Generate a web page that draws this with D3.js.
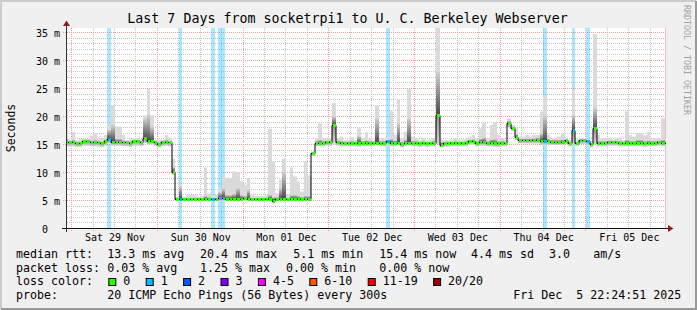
<!DOCTYPE html>
<html>
<head>
<meta charset="utf-8">
<script src="https://cdn.jsdelivr.net/npm/d3@7/dist/d3.min.js"></script>
<style>
  body { margin: 0; background: #f0f0f0; }
  svg text { font-family: "DejaVu Sans Mono", monospace; white-space: pre; }
</style>
</head>
<body>
<svg id="chart" width="697" height="310"></svg>
<script>
// hourly samples, first one covers Fri 28 Nov 22:00-23:00
var firstHour = new Date(2025, 10, 28, 22, 0, 0);
var endTime = new Date(2025, 11, 5, 22, 24, 51);
var startTime = new Date(endTime.getTime() - 7 * 86400e3);

// median rtt in ms, one value per hour
var median = [
  15.4,15.4,15.4,15.2,15.2,15.6,15.6,15.4,15.4,15.4,15.2,15.6,
  16.0,15.5,15.5,15.5,15.4,15.4,15.2,15.6,15.6,15.4,16.1,15.6,
  15.6,15.4,15.1,15.5,15.5,15.4,10.05,5.3,5.3,5.3,5.3,5.3,
  5.3,5.3,5.3,5.3,5.3,5.3,5.3,5.4,5.5,5.3,5.3,5.3,
  5.3,5.3,5.4,5.3,5.3,5.3,5.3,5.3,5.3,5.3,5.0,5.3,
  5.3,5.3,5.3,5.3,5.3,5.3,5.3,5.3,5.3,13.45,15.35,15.35,
  15.35,15.5,15.5,18.5,15.5,15.35,15.35,15.35,15.35,15.35,15.2,15.35,
  15.35,15.35,15.35,15.35,15.35,15.35,15.55,15.35,15.35,15.35,15.05,15.35,
  15.35,15.35,15.35,15.2,15.35,15.2,15.35,15.35,20.3,15.0,15.2,15.2,
  15.35,15.35,15.35,15.35,15.35,15.65,15.65,15.35,15.5,15.5,15.35,15.35,
  15.2,15.2,15.35,15.35,18.8,17.9,16.4,15.8,15.8,15.8,15.8,15.8,
  15.8,15.65,15.65,15.65,15.5,15.5,15.5,15.5,15.77,15.35,17.6,15.35,
  15.77,15.77,15.65,15.05,18.0,15.35,15.35,15.35,15.5,15.5,15.5,15.35,
  15.35,15.35,15.35,15.35,15.35,15.35,15.2,15.35,15.35,15.35,15.5,15.35,15.35
];
// slowest ping of the hour
var smokeHi = [
  21.2,15.9,17.2,15.8,15.9,16.1,16.0,16.6,17.0,16.1,16.1,16.7,
  18.5,22.0,18.2,18.2,16.7,15.8,16.0,16.1,16.1,15.9,20.2,24.9,
  20.2,15.8,15.9,15.9,16.7,16.2,12.5,5.7,7.9,5.7,6.0,6.0,
  6.0,5.7,5.8,10.9,6.3,6.0,6.0,7.1,9.1,9.1,9.0,10.2,
  10.0,8.4,7.8,9.0,6.0,5.8,5.8,5.8,6.0,17.8,12.0,6.3,
  8.7,12.5,6.0,10.9,9.3,8.4,6.6,12.0,9.5,13.8,16.1,18.8,
  16.1,16.1,16.1,22.4,16.1,16.4,15.8,15.8,16.3,15.8,17.9,16.1,
  17.2,16.1,15.8,22.0,16.1,16.1,16.3,21.0,16.7,23.0,16.1,17.3,
  24.9,16.4,16.1,15.9,16.1,15.8,15.9,16.1,35.8,15.9,15.8,15.8,
  15.9,16.1,15.9,15.9,16.1,16.4,16.7,16.1,17.9,18.8,16.1,18.5,
  19.0,16.7,16.1,15.9,19.7,18.5,17.9,16.4,16.4,16.7,16.4,16.7,
  16.7,20.9,23.6,16.7,16.1,16.1,16.4,17.0,16.2,15.8,24.9,15.9,
  16.1,16.1,16.0,15.6,34.7,16.7,16.1,16.1,16.1,15.9,16.1,16.1,
  15.8,20.9,16.7,16.4,17.0,17.0,16.7,17.3,16.1,16.1,16.1,19.7,16.1
];
// top of the dense part of the smoke
var smokeDark = [
  16.0,15.6,15.8,15.5,15.5,15.8,15.8,15.7,15.8,15.6,15.5,15.9,
  17.7,18.5,16.0,16.0,15.7,15.6,15.5,15.8,15.8,15.6,19.7,20.3,
  18.2,15.6,15.4,15.7,15.8,15.6,11.0,5.5,7.6,5.5,5.5,5.5,
  5.5,5.5,5.5,5.8,5.6,5.5,5.5,6.5,7.2,6.0,6.0,6.2,
  7.2,6.0,5.8,6.9,5.5,5.5,5.5,5.5,5.5,6.0,5.6,5.6,
  7.2,10.2,5.5,6.0,6.0,5.8,5.6,5.8,5.8,13.6,15.6,15.8,
  15.6,15.7,15.7,20.0,15.7,15.6,15.5,15.5,15.6,15.5,16.5,15.6,
  15.7,15.6,15.5,19.7,15.6,15.6,15.8,16.0,15.7,18.8,15.5,15.8,
  19.7,15.6,15.6,15.5,15.6,15.5,15.5,15.6,28.0,15.4,15.5,15.5,
  15.5,15.6,15.5,15.5,15.6,15.8,15.9,15.6,16.0,16.2,15.6,15.9,
  16.0,15.6,15.6,15.5,19.2,18.2,16.8,16.0,16.0,16.0,16.0,16.1,
  16.2,17.0,20.2,16.0,15.8,15.8,15.8,15.9,15.9,15.5,20.3,15.5,
  15.9,15.9,15.8,15.3,21.5,15.6,15.6,15.6,15.7,15.7,15.7,15.6,
  15.5,15.8,15.6,15.6,15.8,15.8,15.6,15.7,15.6,15.6,15.7,15.8,15.6
];
// fastest ping of the hour
var smokeLo = [
  14.7,14.7,14.7,14.6,14.6,14.8,14.8,14.7,14.7,14.7,14.6,14.8,
  15.2,14.8,14.8,14.8,14.7,14.7,14.6,14.8,14.8,14.7,15.3,15.0,
  15.0,14.7,14.5,14.7,14.8,14.7,9.6,4.9,4.9,4.9,4.9,4.9,
  4.9,4.9,4.9,4.9,4.9,4.9,4.9,4.9,5.0,4.9,4.9,4.9,
  4.9,4.9,5.0,4.9,4.9,4.9,4.9,4.9,4.9,4.9,4.7,4.9,
  4.9,4.9,4.9,4.9,4.9,4.9,4.9,4.9,4.9,12.9,14.7,14.7,
  14.7,14.8,14.8,15.0,14.8,14.7,14.7,14.7,14.7,14.7,14.6,14.7,
  14.7,14.7,14.7,14.9,14.7,14.7,14.9,14.7,14.7,14.9,14.5,14.7,
  14.9,14.7,14.7,14.6,14.7,14.6,14.7,14.7,15.1,14.5,14.6,14.6,
  14.7,14.7,14.7,14.7,14.7,15.0,15.0,14.7,14.8,14.8,14.7,14.7,
  14.6,14.6,14.7,14.7,18.0,17.4,15.8,15.2,15.2,15.2,15.2,15.2,
  15.2,14.9,14.9,14.9,14.9,14.9,14.9,14.9,15.1,14.7,15.0,14.8,
  15.1,15.1,14.9,14.5,15.0,14.7,14.7,14.7,14.8,14.8,14.8,14.7,
  14.7,14.7,14.7,14.7,14.7,14.7,14.6,14.7,14.7,14.7,14.8,14.7,14.7
];
// hours where pings were lost, and how many
var lossHours = [12, 32, 41, 43, 44, 90, 134, 142, 146];
var lossCounts = [1, 1, 1, 1, 1, 1, 1, 1, 1];

var lossLabels = ["0", "1", "2", "3", "4-5", "6-10", "11-19", "20/20"];
var lossColors = ["#26ff00", "#00b8ff", "#0059ff", "#7e00ff", "#ff00ff", "#ff5500", "#ff0000", "#a10000"];
var yTicks = [0, 5, 10, 15, 20, 25, 30, 35];

var legendRtt = [[16, "median rtt:"], [107.3, "13.3 ms avg"], [200, "20.4 ms max"], [293.3, "5.1 ms min"],
  [379.3, "15.4 ms now"], [471, "4.4 ms sd"], [549, "3.0"], [593.3, "am/s"]];
var legendLoss = [[16, "packet loss:"], [107.3, "0.03 % avg"], [200, "1.25 % max"], [286, "0.00 % min"],
  [379.3, "0.00 % now"]];
var legendProbe = [[16, "probe:"], [107.3, "20 ICMP Echo Pings (56 Bytes) every 300s"], [513.3, "Fri Dec  5 22:24:51 2025"]];

var svg = d3.select("#chart");
var plotL = 66, plotR = 666, plotT = 28, plotB = 228;

var x = d3.scaleTime().domain([startTime, endTime]).range([plotL, plotR]);
var y = d3.scaleLinear().domain([0, 200 / 5.6]).range([228.5, 28.5]);
function hourAt(i) { return d3.timeHour.offset(firstHour, i); }
function px(v) { return Math.floor(v) + 0.5; }

// frame
svg.append("rect").attr("width", 697).attr("height", 310).attr("fill", "#f0f0f0");
svg.append("path").attr("d", "M1,309V1H696").attr("stroke", "#cbcbcb").attr("stroke-width", 2).attr("fill", "none");
svg.append("path").attr("d", "M1,309H696V1").attr("stroke", "#999999").attr("stroke-width", 2).attr("fill", "none");
svg.append("rect").attr("x", plotL).attr("y", plotT).attr("width", plotR - plotL).attr("height", plotB - plotT).attr("fill", "#fff");

var defs = svg.append("defs");
defs.append("clipPath").attr("id", "plot").append("rect")
  .attr("x", plotL + 1).attr("y", plotT).attr("width", plotR - plotL - 1).attr("height", plotB - plotT);
var gUp = defs.append("linearGradient").attr("id", "smokeUp").attr("x1", 0).attr("y1", 1).attr("x2", 0).attr("y2", 0);
gUp.append("stop").attr("offset", "0%").attr("stop-color", "#4a4a4a");
gUp.append("stop").attr("offset", "100%").attr("stop-color", "#d2d2d2");
var gDown = defs.append("linearGradient").attr("id", "smokeDown").attr("x1", 0).attr("y1", 0).attr("x2", 0).attr("y2", 1);
gDown.append("stop").attr("offset", "0%").attr("stop-color", "#909090");
gDown.append("stop").attr("offset", "100%").attr("stop-color", "#d8d8d8");

// grid
var grid = svg.append("g");
d3.range(1, 36).filter(function (v) { return v % 5 != 0; }).forEach(function (v) {
  grid.append("line").attr("x1", plotL + 1).attr("x2", plotR).attr("y1", px(y(v))).attr("y2", px(y(v)))
    .attr("stroke", "#c4c4c4").attr("stroke-dasharray", "1,1");
});
d3.timeHour.every(6).range(startTime, endTime).filter(function (d) { return d.getHours() != 0; }).forEach(function (d) {
  grid.append("line").attr("x1", px(x(d))).attr("x2", px(x(d))).attr("y1", plotT).attr("y2", plotB + 3)
    .attr("stroke", "#c4c4c4").attr("stroke-dasharray", "1,1");
});
yTicks.slice(1).forEach(function (v) {
  grid.append("line").attr("x1", plotL - 3).attr("x2", plotR).attr("y1", px(y(v))).attr("y2", px(y(v)))
    .attr("stroke", "#eba0a0").attr("stroke-dasharray", "1,1");
});
d3.timeDay.range(startTime, endTime).forEach(function (d) {
  grid.append("line").attr("x1", px(x(d))).attr("x2", px(x(d))).attr("y1", plotT).attr("y2", plotB + 3)
    .attr("stroke", "#eba0a0").attr("stroke-dasharray", "1,1");
});
grid.append("line").attr("x1", plotR - 0.5).attr("x2", plotR - 0.5).attr("y1", plotT).attr("y2", plotB)
  .attr("stroke", "#f2b8b8");

var data = svg.append("g").attr("clip-path", "url(#plot)");

// loss background
lossHours.forEach(function (h, k) {
  var x0 = Math.round(x(hourAt(h))), x1 = Math.round(x(hourAt(h + 1)));
  data.append("rect").attr("x", x0).attr("width", x1 - x0).attr("y", plotT).attr("height", plotB - plotT)
    .attr("fill", lossColors[Math.min(lossCounts[k], 3)]).attr("fill-opacity", 0.33);
});

// smoke
median.forEach(function (m, i) {
  var x0 = Math.round(x(hourAt(i))), x1 = Math.round(x(hourAt(i + 1)));
  var w = x1 - x0;
  data.append("rect").attr("x", x0).attr("width", w)
    .attr("y", y(smokeHi[i])).attr("height", y(smokeLo[i]) - y(smokeHi[i])).attr("fill", "#dadada");
  data.append("rect").attr("x", x0).attr("width", w)
    .attr("y", y(m)).attr("height", Math.max(0, y(smokeLo[i]) - y(m))).attr("fill", "url(#smokeDown)");
  data.append("rect").attr("x", x0).attr("width", w)
    .attr("y", y(smokeDark[i])).attr("height", Math.max(0, y(m) - y(smokeDark[i]))).attr("fill", "url(#smokeUp)");
});

// median line, black steps and loss coloured segments
var pts = median.map(function (m, i) { return [Math.round(x(hourAt(i))), Math.round(y(m)) + 0.5]; });
pts.push([Math.round(x(hourAt(median.length))), pts[pts.length - 1][1]]);
data.append("path").attr("d", d3.line().curve(d3.curveStepAfter)(pts))
  .attr("fill", "none").attr("stroke", "#000").attr("stroke-width", 1);
median.forEach(function (m, i) {
  var x0 = Math.round(x(hourAt(i))), x1 = Math.round(x(hourAt(i + 1)));
  var k = lossHours.indexOf(i);
  var c = k < 0 ? lossColors[0] : lossColors[lossCounts[k]];
  data.append("rect").attr("x", x0 + 1).attr("width", x1 - x0 - 1)
    .attr("y", Math.round(y(m)) - 1).attr("height", 3).attr("fill", c);
});

// axes
var xAxis = d3.axisBottom(x)
  .tickValues(d3.timeDay.range(startTime, endTime).map(function (d) { return d3.timeHour.offset(d, 12); }))
  .tickSize(0).tickPadding(5.5).tickFormat(d3.timeFormat("%a %d %b"));
var gx = svg.append("g").attr("transform", "translate(0," + plotB + ")").call(xAxis);
gx.select(".domain").remove();
gx.selectAll("text").attr("font-family", "DejaVu Sans Mono").attr("font-size", "10px").attr("fill", "#000");

var yAxis = d3.axisLeft(y).tickValues(yTicks).tickSize(0).tickPadding(6)
  .tickFormat(function (v) { return v === 0 ? "0\u00a0\u00a0" : v + " m"; });
var gy = svg.append("g").attr("transform", "translate(" + plotL + ",0)").call(yAxis);
gy.select(".domain").remove();
gy.selectAll("text").attr("font-family", "DejaVu Sans Mono").attr("font-size", "10px").attr("fill", "#000").attr("dy", "0.37em");

svg.append("line").attr("x1", 62).attr("x2", 669).attr("y1", plotB + 0.5).attr("y2", plotB + 0.5).attr("stroke", "#111");
svg.append("line").attr("x1", plotL + 0.5).attr("x2", plotL + 0.5).attr("y1", 232).attr("y2", 25).attr("stroke", "#333");
svg.append("path").attr("d", "M668,225L673.5,228.5L668,232Z").attr("fill", "#8f1c1c");
svg.append("path").attr("d", "M63,26L66.5,20.5L70,26Z").attr("fill", "#8f1c1c");

// titles
svg.append("text").attr("x", 347.5).attr("y", 23).attr("text-anchor", "middle").attr("font-size", "13.3px")
  .text("Last 7 Days from socketrpi1 to U. C. Berkeley Webserver");
svg.append("text").attr("transform", "translate(15,128) rotate(-90)").attr("text-anchor", "middle")
  .attr("font-size", "11.5px").text("Seconds");
svg.append("text").attr("transform", "translate(684,60) rotate(90)").attr("text-anchor", "middle")
  .attr("font-size", "8.3px").attr("fill", "#a0a0a0").text("RRDTOOL / TOBI OETIKER");

// legend
var legend = svg.append("g").attr("font-size", "11.63px").attr("fill", "#000");
function legendLine(items, base) {
  items.forEach(function (it) {
    legend.append("text").attr("x", it[0]).attr("y", base).text(it[1]);
  });
}
legendLine(legendRtt, 258.3);
legendLine(legendLoss, 271.8);
legendLine([[16, "loss color:"]], 285.3);
legendLine(legendProbe, 298.8);
var lx = 108.3;
lossLabels.forEach(function (lab, i) {
  legend.append("rect").attr("x", lx + 0.5).attr("y", 278.5).attr("width", 7).attr("height", 7)
    .attr("fill", lossColors[i]).attr("stroke", "#000");
  legend.append("text").attr("x", lx + 15).attr("y", 285.3).text(lab);
  lx = lx + 15 + lab.length * 7 + 15.4;
});
</script>
</body>
</html>
